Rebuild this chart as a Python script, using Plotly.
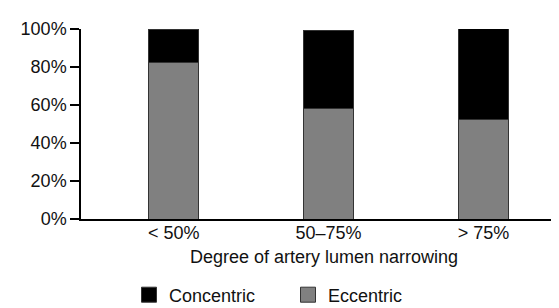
import plotly.graph_objects as go

categories = ["< 50%", "50–75%", "> 75%"]
eccentric = [82.6, 58.0, 52.3]
concentric = [17.4, 41.3, 47.9]
y_ticks = [0, 20, 40, 60, 80, 100]
y_tick_labels = ["0%", "20%", "40%", "60%", "80%", "100%"]

FONT = "Liberation Sans, Arial, sans-serif"
FS = 18
x_idx = list(range(len(categories)))

fig = go.Figure()
fig.add_trace(go.Bar(x=x_idx, y=eccentric, name="Eccentric", width=0.323,
                     marker=dict(color="#808080", line=dict(color="#333333", width=1)),
                     showlegend=False))
fig.add_trace(go.Bar(x=x_idx, y=concentric, name="Concentric", width=0.323,
                     marker=dict(color="#000000", line=dict(color="#333333", width=1)),
                     showlegend=False))
# legend entries
fig.add_trace(go.Scatter(x=[None], y=[None], mode="markers", name="Concentric",
                         marker=dict(symbol="square", size=15, color="#000000",
                                     line=dict(color="#333333", width=1))))
fig.add_trace(go.Scatter(x=[None], y=[None], mode="markers", name="Eccentric",
                         marker=dict(symbol="square", size=15, color="#808080",
                                     line=dict(color="#333333", width=1))))

fig.update_layout(
    width=559, height=308,
    barmode="stack",
    margin=dict(l=73, r=0, t=21, b=97, autoexpand=False),
    paper_bgcolor="white", plot_bgcolor="white",
    font=dict(family=FONT, size=FS, color="#111111"),
    showlegend=True,
    legend=dict(orientation="h", x=(121 - 73) / 486, xanchor="left",
                yref="container", y=(308 - 287) / 308, yanchor="middle",
                font=dict(family=FONT, size=FS, color="#111111"),
                traceorder="normal",
                entrywidth=114, entrywidthmode="pixels",
                bgcolor="rgba(0,0,0,0)"),
    xaxis=dict(range=[-0.598, 2.539], tickvals=x_idx, ticktext=categories,
               tickfont=dict(family=FONT, size=FS, color="#111111"),
               ticklabelstandoff=-3,
               showline=True, linecolor="#000000", linewidth=1.5,
               ticks="", showgrid=False, zeroline=False, automargin=False,
               title=dict(text="Degree of artery lumen narrowing", standoff=8,
                          font=dict(family=FONT, size=FS, color="#111111"))),
    yaxis=dict(range=[0, 100], tickvals=y_ticks, ticktext=y_tick_labels,
               tickfont=dict(family=FONT, size=FS, color="#111111"),
               showline=True, linecolor="#000000", linewidth=1.5,
               ticks="outside", ticklen=9, tickwidth=1.5, tickcolor="#000000",
               showgrid=False, zeroline=False, automargin=False),
)

fig.write_html("out.html")
